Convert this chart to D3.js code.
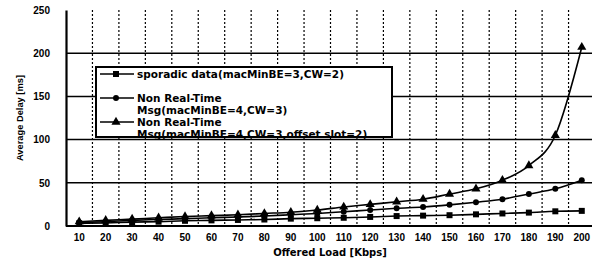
<!DOCTYPE html>
<html><head><meta charset="utf-8">
<script src="https://cdn.jsdelivr.net/npm/d3@7"></script>
<style>body{margin:0;background:#fff}svg{display:block}</style>
</head><body>
<svg id="c" width="592" height="261"></svg>
<script>
const categories = [10,20,30,40,50,60,70,80,90,100,110,120,130,140,150,160,170,180,190,200];
const sporadic = [3,3.5,4.5,5,6,6.5,7,7.5,8.5,9,9.5,10.5,11.5,12,12.5,13.5,14.5,15.5,17,17.5];
const nrtCW3 = [4,5,6.5,7.5,8.5,9.5,10.5,11.5,13,14.5,16.5,18.5,20.5,22,24.5,27.5,31,37,43,53];
const nrtOffset = [5,6.5,8,9.5,11,12,13,14.5,16,18.5,22,25,28,31,37,43,53,70,105,207];
const yTicks = [0,50,100,150,200,250];
const legendLabels = [["sporadic data(macMinBE=3,CW=2)"],["Non Real-Time","Msg(macMinBE=4,CW=3)"],["Non Real-Time","Msg(macMinBE=4,CW=3,offset slot=2)"]];

(function(){
const svg = d3.select("#c");
const pLeft = 66, pTop = 10, pBottom = 226, step = 26.45;
const x = d3.scaleBand().domain(categories).range([pLeft, pLeft + step*categories.length]).padding(0);
const y = d3.scaleLinear().domain([0,250]).range([pBottom, pTop]);
const font = "'Liberation Sans', Arial, sans-serif";

// horizontal grid
svg.append("g").selectAll("line").data([50,100,150,200]).join("line")
  .attr("x1", pLeft).attr("x2", 592).attr("y1", d=>y(d)).attr("y2", d=>y(d))
  .attr("stroke","#000").attr("stroke-width",1.5);
// vertical dotted grid
svg.append("g").selectAll("line").data(categories.slice(0,-1)).join("line")
  .attr("x1", d=>x(d)+x.bandwidth()).attr("x2", d=>x(d)+x.bandwidth())
  .attr("y1", pTop).attr("y2", pBottom)
  .attr("stroke","#000").attr("stroke-width",1.2).attr("stroke-dasharray","2,2");

// axes
const yAxis = svg.append("g").attr("transform",`translate(${pLeft},0)`)
  .call(d3.axisLeft(y).tickValues(yTicks).tickSize(0).tickPadding(16));
yAxis.select(".domain").attr("stroke-width",2.2);
yAxis.selectAll("text").attr("font-family",font).attr("font-weight","bold").attr("font-size","10px").attr("fill","#000");
const xAxis = svg.append("g").attr("transform",`translate(0,${pBottom})`)
  .call(d3.axisBottom(x).tickSize(0).tickPadding(8));
xAxis.select(".domain").attr("d",`M${pLeft},0H592`).attr("stroke-width",2);
xAxis.selectAll("text").attr("font-family",font).attr("font-weight","bold").attr("font-size","10px").attr("fill","#000");

// titles
svg.append("text").attr("x",330).attr("y",256).attr("text-anchor","middle")
  .attr("font-family","'DejaVu Sans', sans-serif").attr("font-weight","bold").attr("font-size","10px")
  .text("Offered Load [Kbps]");
svg.append("text").attr("transform","translate(23,118) rotate(-90)").attr("text-anchor","middle")
  .attr("font-family",font).attr("font-weight","bold").attr("font-size","9px")
  .attr("textLength",86).attr("lengthAdjust","spacingAndGlyphs")
  .text("Average Delay [ms]");

// series
const cx = d => x(d) + x.bandwidth()/2;
const series = [
  {vals: sporadic, sym: d3.symbolSquare, size: 36},
  {vals: nrtCW3, sym: d3.symbolCircle, size: 28},
  {vals: nrtOffset, sym: d3.symbolTriangle, size: 36}
];
const line = d3.line().x((d,i)=>cx(categories[i])).y(d=>y(d)).curve(d3.curveMonotoneX);
series.forEach(s=>{
  svg.append("path").attr("d", line(s.vals)).attr("fill","none").attr("stroke","#000").attr("stroke-width",1.6);
  svg.append("g").selectAll("path").data(s.vals).join("path")
    .attr("transform",(d,i)=>`translate(${cx(categories[i])},${y(d)})`)
    .attr("d", d3.symbol().type(s.sym).size(s.size)).attr("fill","#000");
});

// legend
const lg = svg.append("g");
lg.append("rect").attr("x",96).attr("y",67).attr("width",296).attr("height",70)
  .attr("fill","#fff").attr("stroke","#000").attr("stroke-width",2);
const rowsY = [74, 98, 122];
legendLabels.forEach((lab,i)=>{
  const yy = rowsY[i];
  lg.append("line").attr("x1",100).attr("x2",134).attr("y1",yy).attr("y2",yy).attr("stroke","#000").attr("stroke-width",1.6);
  lg.append("path").attr("transform",`translate(116,${yy})`).attr("d",d3.symbol().type(series[i].sym).size(series[i].size)).attr("fill","#000");
  lab.forEach((t,j)=>{
    lg.append("text").attr("x",137).attr("y",yy + 4 + j*12)
      .attr("font-family","'DejaVu Sans', sans-serif").attr("font-weight","bold").attr("font-size","10.5px")
      .text(t);
  });
});
})();
</script>
</body></html>
